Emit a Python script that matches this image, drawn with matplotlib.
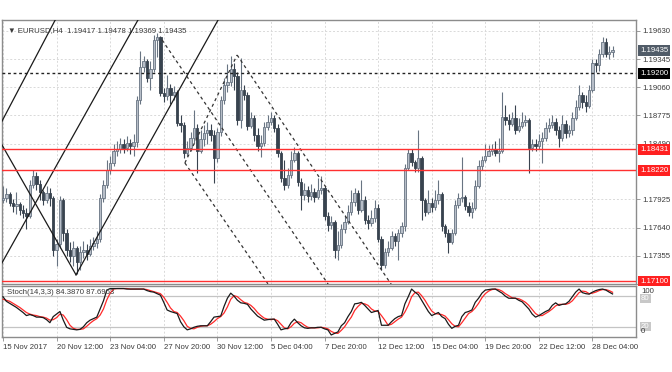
import matplotlib
matplotlib.use("Agg")
import matplotlib.pyplot as plt
import matplotlib.transforms as mtransforms
import numpy as np

FONTS = ["Liberation Sans", "DejaVu Sans"]
plt.rcParams["font.family"] = FONTS

# EURUSD H4 candles (open = previous close)
first_open = 1.1792
closes = [
    1.1794, 1.1798, 1.1789, 1.1786, 1.1788, 1.1782, 1.1779, 1.1776, 1.1807, 1.1816,
    1.1808, 1.1800, 1.1792, 1.1799, 1.1794, 1.1741, 1.1747, 1.1792, 1.1759, 1.1741,
    1.1735, 1.1743, 1.1729, 1.1739, 1.1741, 1.1737, 1.1745, 1.1748, 1.1753, 1.1794,
    1.1807, 1.1822, 1.1829, 1.1842, 1.1844, 1.1849, 1.1845, 1.1850, 1.1847, 1.1851,
    1.1893, 1.1927, 1.1933, 1.1915, 1.1925, 1.1954, 1.1957, 1.1900, 1.1897, 1.1905,
    1.1898, 1.1901, 1.1870, 1.1868, 1.1840, 1.1845, 1.1855, 1.1865, 1.1842, 1.1854,
    1.1860, 1.1863, 1.1858, 1.1834, 1.1861, 1.1893, 1.1908, 1.1911, 1.1925, 1.1917,
    1.1873, 1.1903, 1.1898, 1.1867, 1.1875, 1.1858, 1.1847, 1.1850, 1.1866, 1.1871,
    1.1875, 1.1865, 1.1840, 1.1814, 1.1807, 1.1817, 1.1832, 1.1840, 1.1810, 1.1797,
    1.1802, 1.1796, 1.1800, 1.1795, 1.1802, 1.1804, 1.1776, 1.1767, 1.1770, 1.1741,
    1.1746, 1.1763, 1.1770, 1.1780, 1.1790, 1.1799, 1.1782, 1.1792, 1.1772, 1.1769,
    1.1774, 1.1784, 1.1753, 1.1726, 1.1739, 1.1743, 1.1756, 1.1751, 1.1759, 1.1766,
    1.1824, 1.1840, 1.1830, 1.1824, 1.1834, 1.1792, 1.1780, 1.1789, 1.1785, 1.1792,
    1.1798, 1.1766, 1.1759, 1.1749, 1.1759, 1.1787, 1.1794, 1.1795, 1.1786, 1.1780,
    1.1784, 1.1806, 1.1826, 1.1832, 1.1837, 1.1842, 1.1844, 1.1840, 1.1842, 1.1876,
    1.1873, 1.1869, 1.1875, 1.1863, 1.1867, 1.1871, 1.1873, 1.1845, 1.1849, 1.1847,
    1.1852, 1.1855, 1.1865, 1.1868, 1.1871, 1.1863, 1.1855, 1.1869, 1.1860, 1.1863,
    1.1875, 1.1886, 1.1898, 1.1891, 1.1887, 1.1903, 1.1931, 1.1929, 1.1940, 1.1952,
    1.1940, 1.19417, 1.19435,
]
highs = [
    1.1806, 1.1804, 1.1800, 1.1793, 1.1800, 1.1790, 1.1787, 1.1784, 1.1812, 1.1822,
    1.1820, 1.1812, 1.1802, 1.1806, 1.1804, 1.1796, 1.1753, 1.1796, 1.1794, 1.1763,
    1.1749, 1.1751, 1.1745, 1.1745, 1.1751, 1.1747, 1.1753, 1.1755, 1.1761, 1.1798,
    1.1812, 1.1832, 1.1836, 1.1849, 1.1852, 1.1855, 1.1854, 1.1857, 1.1854, 1.1859,
    1.1897, 1.1943, 1.1938, 1.1935, 1.1933, 1.1959, 1.1961, 1.1958, 1.1905, 1.1918,
    1.1909, 1.1907, 1.1903, 1.1878, 1.1871, 1.1852, 1.1861, 1.1883, 1.1869, 1.1863,
    1.1868, 1.1871, 1.1869, 1.1863, 1.1865, 1.1897, 1.1915, 1.1930, 1.1938, 1.1931,
    1.1921, 1.1936, 1.1908, 1.1901, 1.1881, 1.1878, 1.1865, 1.1858, 1.1871, 1.1878,
    1.1881, 1.1878, 1.1869, 1.1842, 1.1832, 1.1824, 1.1842, 1.1846, 1.1842, 1.1814,
    1.1809, 1.1806, 1.1808, 1.1804, 1.1814, 1.1816, 1.1806, 1.1780, 1.1776, 1.1772,
    1.1761, 1.1768, 1.1777, 1.1787, 1.1802, 1.1804, 1.1802, 1.1812, 1.1796, 1.1777,
    1.1782, 1.1792, 1.1788, 1.1756, 1.1743, 1.1751, 1.1761, 1.1759, 1.1763, 1.1770,
    1.1828, 1.1844, 1.1844, 1.1832, 1.1863, 1.1836, 1.1794, 1.1802, 1.1794, 1.1802,
    1.1812, 1.1800, 1.1768, 1.1763, 1.1763, 1.1792, 1.1799, 1.1835, 1.1797, 1.1790,
    1.1790, 1.1812, 1.1832, 1.1837, 1.1849, 1.1848, 1.1849, 1.1852, 1.1855, 1.1901,
    1.1888, 1.1879, 1.1881, 1.1888, 1.1875, 1.1881, 1.1878, 1.1875, 1.1854, 1.1854,
    1.1859, 1.1861, 1.1871, 1.1875, 1.1878, 1.1875, 1.1867, 1.1878, 1.1873, 1.1868,
    1.1881, 1.1893, 1.1908, 1.1901, 1.1898, 1.1908, 1.1935, 1.1935, 1.1945, 1.1957,
    1.1956, 1.1948, 1.19478,
]
lows = [
    1.1789, 1.1790, 1.1786, 1.1780, 1.1778, 1.1777, 1.1774, 1.1763, 1.1774, 1.1804,
    1.1802, 1.1792, 1.1787, 1.1789, 1.1786, 1.1735, 1.1725, 1.1743, 1.1751, 1.1735,
    1.1729, 1.1725, 1.1717, 1.1721, 1.1733, 1.1731, 1.1735, 1.1741, 1.1743, 1.1749,
    1.1790, 1.1804, 1.1818, 1.1826, 1.1837, 1.1840, 1.1840, 1.1842, 1.1839, 1.1837,
    1.1846, 1.1889, 1.1921, 1.1911, 1.1903, 1.1921, 1.1937, 1.1897, 1.1891, 1.1893,
    1.1889, 1.1893, 1.1867, 1.1861, 1.1834, 1.1836, 1.1842, 1.1850, 1.1819, 1.1840,
    1.1847, 1.1849, 1.1852, 1.1809, 1.1830, 1.1857, 1.1889, 1.1901, 1.1907, 1.1903,
    1.1868, 1.1865, 1.1893, 1.1863, 1.1865, 1.1852, 1.1842, 1.1835, 1.1847, 1.1863,
    1.1868, 1.1861, 1.1835, 1.1810, 1.1802, 1.1804, 1.1814, 1.1830, 1.1806, 1.1782,
    1.1792, 1.1790, 1.1792, 1.1790, 1.1793, 1.1798, 1.1772, 1.1761, 1.1763, 1.1733,
    1.1731, 1.1743, 1.1759, 1.1768, 1.1777, 1.1786, 1.1778, 1.1780, 1.1768, 1.1763,
    1.1766, 1.1770, 1.1749, 1.1721, 1.1723, 1.1735, 1.1741, 1.1745, 1.1731, 1.1755,
    1.1761, 1.1822, 1.1826, 1.1820, 1.1820, 1.1772, 1.1776, 1.1778, 1.1780, 1.1782,
    1.1788, 1.1761, 1.1755, 1.1738, 1.1747, 1.1757, 1.1784, 1.1790, 1.1782, 1.1776,
    1.1774, 1.1782, 1.1804, 1.1822, 1.1830, 1.1836, 1.1838, 1.1836, 1.1830, 1.1840,
    1.1868, 1.1863, 1.1867, 1.1859, 1.1861, 1.1865, 1.1867, 1.1819, 1.1842, 1.1842,
    1.1844, 1.1829, 1.1852, 1.1861, 1.1865, 1.1858, 1.1846, 1.1852, 1.1855, 1.1856,
    1.1858, 1.1873, 1.1883, 1.1885, 1.1881, 1.1885, 1.1901, 1.1921, 1.1923, 1.1937,
    1.1937, 1.1935, 1.19369,
]

# Stoch(14,3,3) main (black) and signal (red)
stoch_k = [
    79, 70, 66, 62, 58, 53, 48, 42, 44, 42,
    39, 39, 38, 34, 28, 40, 45, 50, 33, 19,
    16, 15, 14, 15, 20, 28, 33, 36, 39, 55,
    71, 92, 95, 95, 95, 95, 95, 94, 94, 94,
    94, 94, 94, 91, 89, 88, 85, 82, 68, 53,
    50, 48, 46, 30, 20, 14, 16, 19, 21, 22,
    22, 22, 30, 39, 40, 41, 60, 76, 86, 80,
    72, 67, 66, 64, 55, 48, 41, 37, 33, 34,
    35, 35, 25, 14, 16, 17, 28, 35, 28, 22,
    18, 17, 18, 18, 19, 19, 16, 14, 4, 7,
    10, 22, 28, 40, 50, 65, 66, 68, 62, 55,
    48, 50, 52, 23, 23, 23, 30, 36, 40, 42,
    65, 79, 94, 88, 83, 72, 61, 50, 42, 45,
    48, 40, 36, 25, 17, 21, 23, 40, 48, 50,
    53, 68, 76, 86, 92, 93, 94, 94, 90, 86,
    80, 76, 76, 76, 72, 69, 62, 55, 45, 39,
    42, 46, 50, 53, 62, 67, 62, 64, 65, 70,
    79, 88, 94, 87, 85, 84, 88, 91, 93, 94,
    92, 88, 84.387,
]
stoch_d = [
    74, 72, 70, 66, 62, 58, 53, 48, 45, 43,
    42, 40, 39, 37, 33, 34, 38, 45, 43, 34,
    23, 17, 15, 15, 16, 21, 27, 32, 36, 43,
    55, 73, 86, 94, 95, 95, 95, 95, 94, 94,
    94, 94, 94, 93, 91, 89, 87, 85, 78, 68,
    57, 50, 48, 41, 32, 21, 17, 16, 19, 21,
    22, 22, 25, 30, 36, 40, 47, 59, 74, 81,
    79, 73, 68, 66, 62, 56, 48, 42, 37, 35,
    34, 35, 32, 25, 18, 16, 20, 27, 30, 28,
    23, 19, 18, 18, 18, 19, 18, 16, 11, 8,
    7, 13, 20, 30, 39, 52, 60, 66, 65, 62,
    55, 51, 50, 42, 33, 23, 25, 30, 35, 39,
    49, 62, 79, 87, 88, 81, 72, 61, 51, 46,
    45, 44, 41, 34, 26, 21, 20, 28, 37, 46,
    50, 57, 66, 77, 85, 90, 93, 94, 93, 90,
    85, 81, 77, 76, 75, 72, 68, 62, 54, 46,
    42, 42, 46, 50, 55, 61, 64, 64, 64, 66,
    71, 79, 87, 90, 89, 85, 86, 88, 91, 93,
    93, 91, 87.6963,
]

date_labels = ["15 Nov 2017", "20 Nov 12:00", "23 Nov 04:00", "27 Nov 20:00",
               "30 Nov 12:00", "5 Dec 04:00", "7 Dec 20:00", "12 Dec 12:00",
               "15 Dec 04:00", "19 Dec 20:00", "22 Dec 12:00", "28 Dec 04:00"]
price_ticks = [1.19630, 1.19345, 1.19060, 1.18775, 1.18490,
               1.17925, 1.17640, 1.17355, 1.17070]
resistance = 1.19200
red_levels = [1.18431, 1.18220, 1.17100]

# drawn objects: (bar, price) anchor pairs
solid_lines = [
    [(-0.9, 1.18679), (17.0, 1.19832)],
    [(-0.9, 1.17248), (41.8, 1.19832)],
    [(21.8, 1.17163), (66.3, 1.19868)],
    [(-0.9, 1.18512), (21.8, 1.17163)],
]
dashed_lines = [
    [(47.5, 1.19539), (97.6, 1.17042)],
    [(54.3, 1.18295), (79.1, 1.17072)],
    [(69.9, 1.19387), (116.4, 1.17042)],
    [(54.3, 1.18295), (69.9, 1.19387)],
]

opens = [first_open] + closes[:-1]
o = np.array(opens)
c = np.array(closes)
h = np.maximum(np.array(highs), np.maximum(o, c))
l = np.minimum(np.array(lows), np.minimum(o, c))
x = np.arange(len(c))
up = c >= o

BULL = "#b7bec8"
BULL_EDGE = "#687482"
BEAR = "#38434f"
TXT = "#3a3a3a"
GRID = "#d9d9d9"
FRAME = "#8c8c8c"
FS = 5.6

fig = plt.figure(figsize=(6.72, 3.72), dpi=100)
W, H = 672, 372
ax = fig.add_axes([2 / W, 1 - 284 / H, 634 / W, 264 / H])
ax2 = fig.add_axes([2 / W, 1 - 337 / H, 634 / W, 51 / H])

xlim = (-0.3, 189)
ax.set_xlim(*xlim)
ax.set_ylim(1.17072, 1.19741)
ax2.set_xlim(*xlim)
ax2.set_ylim(0, 100)

tick_bars = np.arange(len(date_labels)) * 16

for a in (ax, ax2):
    for s in a.spines.values():
        s.set_color(FRAME)
        s.set_linewidth(1.0)
    for tb in tick_bars:
        a.axvline(tb, color=GRID, lw=0.7, ls=(0, (2, 2)), zorder=0)

for p in price_ticks:
    ax.axhline(p, color=GRID, lw=0.7, ls=(0, (2, 2)), zorder=0)

# candles
ax.vlines(x[up], l[up], h[up], color=BULL_EDGE, lw=0.8, zorder=2)
ax.vlines(x[~up], l[~up], h[~up], color=BEAR, lw=0.8, zorder=2)
ax.bar(x[up], np.maximum(c[up] - o[up], 0.00002), bottom=o[up], width=0.7,
       color=BULL, edgecolor=BULL_EDGE, linewidth=0.6, zorder=3)
ax.bar(x[~up], np.maximum(o[~up] - c[~up], 0.00002), bottom=c[~up], width=0.7,
       color=BEAR, edgecolor=BEAR, linewidth=0.6, zorder=3)

# objects
for seg in solid_lines:
    (x0, y0), (x1, y1) = seg
    ax.plot([x0, x1], [y0, y1], color="#1a1a1a", lw=0.9, zorder=4)
for seg in dashed_lines:
    (x0, y0), (x1, y1) = seg
    ax.plot([x0, x1], [y0, y1], color="#333333", lw=0.9, ls=(0, (2.5, 2.5)), zorder=4)

ax.axhline(resistance, color="#222222", lw=1.0, ls=(0, (2, 2)), zorder=4)
for p in red_levels:
    ax.axhline(p, color="#ff3030", lw=1.0, zorder=4)

# right price scale
ax.yaxis.tick_right()
ax.set_yticks(price_ticks)
ax.set_yticklabels([f"{p:.5f}" for p in price_ticks])
ax.tick_params(axis="y", length=3, width=0.6, color=FRAME, pad=1.5,
               labelsize=FS, labelcolor=TXT)
ax.set_xticks([])

tr = mtransforms.blended_transform_factory(ax.transAxes, ax.transData)


def price_box(val, fc, tc="white"):
    ax.text(1.0065, val, f"{val:.5f}", transform=tr, ha="left", va="center",
            fontsize=FS, color=tc, zorder=20, clip_on=False,
            bbox=dict(boxstyle="square,pad=0.25", fc=fc, ec="none"))


price_box(closes[-1], "#515c68")
price_box(resistance, "#000000")
for p in red_levels:
    price_box(p, "#ff2020")

ax.text(0.01, 0.975, "\u25bc EURUSD,H4  1.19417 1.19478 1.19369 1.19435",
        transform=ax.transAxes, ha="left", va="top", fontsize=FS, color=TXT,
        family=FONTS, zorder=20)

# stochastic panel
ax2.axhline(80, color="#c4c4c4", lw=0.9, zorder=1)
ax2.axhline(20, color="#c4c4c4", lw=0.9, zorder=1)
ax2.plot(x, stoch_d, color="#ff2a2a", lw=0.9, zorder=3)
ax2.plot(x, stoch_k, color="#1a1a1a", lw=0.9, zorder=4)
ax2.text(0.008, 0.95, f"Stoch(14,3,3) {stoch_k[-1]:.4f} {stoch_d[-1]:.4f}",
         transform=ax2.transAxes, ha="left", va="top", fontsize=FS, color=TXT,
         zorder=10)

ax2.yaxis.tick_right()
ax2.set_yticks([])
tr2 = mtransforms.blended_transform_factory(ax2.transAxes, ax2.transData)
for lv, yy in ((80, 76), (20, 21)):
    ax2.text(1.008, yy, str(lv), transform=tr2, ha="left", va="center",
             fontsize=FS, color="white", clip_on=False, zorder=10,
             bbox=dict(boxstyle="square,pad=0.15", fc="#c8c8c8", ec="none"))
ax2.text(1.008, 89, "100", transform=tr2, ha="left", va="center", fontsize=FS,
         color=TXT, clip_on=False, zorder=11)
ax2.text(1.008, 10, "0", transform=tr2, ha="left", va="center", fontsize=FS,
         color=TXT, clip_on=False, zorder=11)

ax2.set_xticks(tick_bars)
ax2.set_xticklabels(date_labels)
ax2.tick_params(axis="x", length=3, width=0.6, color=FRAME, pad=2,
                labelsize=FS, labelcolor=TXT)
for lab in ax2.get_xticklabels():
    lab.set_horizontalalignment("left")

fig.savefig("out.png", dpi=100, facecolor="white")
